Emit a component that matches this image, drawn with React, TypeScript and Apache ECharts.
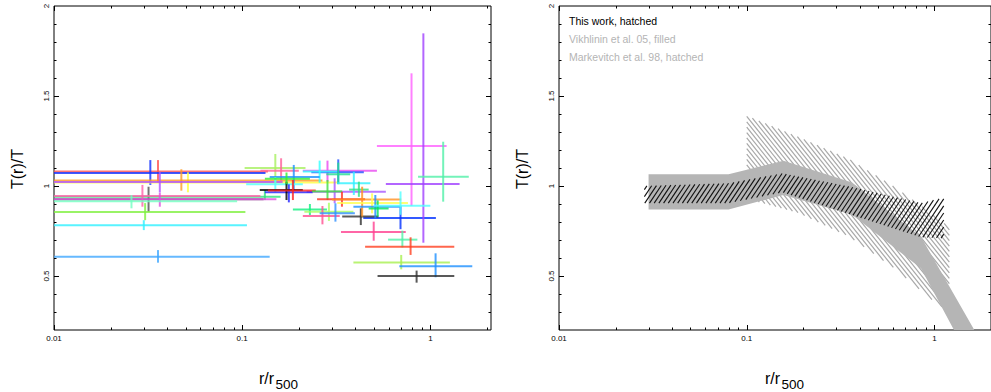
import { useEffect, useRef } from "react";
import * as echarts from "echarts";

const FONT = "'Liberation Sans', Arial, Helvetica, sans-serif";

// Individual cluster profile bins: r/r500 centre and range, T(r)/T centre and range
const binR = [
  0.0318, 0.0357, 0.0325, 0.0515, 0.0475, 0.0365, 0.132, 0.0295, 0.0365, 0.0258, 0.0305, 0.030, 0.0357,
  0.150, 0.161, 0.284, 0.324, 0.258, 0.324, 0.188, 0.15, 0.31, 0.177, 0.172, 0.186, 0.172,
  0.229, 0.289, 0.267, 0.313, 0.284, 0.694, 0.427, 0.5, 0.71, 0.785, 0.70, 1.066, 0.845,
  0.794, 0.918, 1.17, 0.392, 0.417, 0.339, 0.434, 0.49, 0.51, 0.525, 0.694,
];
const binT = [
  0.927, 1.08, 1.072, 1.02, 1.031, 1.022, 0.94, 0.944, 0.926, 0.915, 0.856, 0.782, 0.607,
  1.10, 1.085, 1.085, 1.076, 1.08, 1.065, 1.05, 1.01, 0.968, 0.965, 0.978, 0.975, 1.04,
  0.87, 0.857, 0.833, 0.848, 0.97, 0.822, 0.83, 0.744, 0.702, 0.663, 0.575, 0.554, 0.5,
  1.222, 1.011, 1.052, 1.015, 0.98, 0.927, 0.925, 0.905, 0.885, 0.875, 0.89,
];
const binRLow = [
  0.005, 0.005, 0.005, 0.005, 0.005, 0.005, 0.005, 0.005, 0.005, 0.005, 0.005, 0.005, 0.005,
  0.103, 0.125, 0.21, 0.233, 0.21, 0.28, 0.14, 0.105, 0.22, 0.132, 0.124, 0.137, 0.132,
  0.186, 0.214, 0.21, 0.258, 0.235, 0.44, 0.34, 0.335, 0.596, 0.45, 0.39, 0.684, 0.524,
  0.52, 0.58, 0.86, 0.32, 0.37, 0.25, 0.30, 0.32, 0.39, 0.47, 0.5,
];
const binRHigh = [
  0.13, 0.137, 0.133, 0.32, 0.267, 0.164, 0.16, 0.125, 0.152, 0.094, 0.104, 0.106, 0.140,
  0.217, 0.20, 0.52, 0.443, 0.32, 0.375, 0.258, 0.21, 0.58, 0.237, 0.21, 0.246, 0.229,
  0.282, 0.39, 0.33, 0.397, 0.34, 1.07, 0.53, 0.74, 0.853, 1.34, 1.27, 1.67, 1.34,
  1.22, 1.43, 1.6, 0.48, 0.47, 0.45, 0.70, 0.76, 0.69, 0.60, 1.0,
];
const binTLow = [
  0.857, 1.018, 1.006, 0.965, 0.974, 0.963, 0.922, 0.885, 0.885, 0.876, 0.81, 0.755, 0.574,
  1.015, 1.024, 1.024, 1.011, 1.018, 1.01, 0.978, 0.965, 0.904, 0.909, 0.922, 0.922, 1.01,
  0.839, 0.806, 0.787, 0.802, 0.922, 0.76, 0.783, 0.696, 0.659, 0.617, 0.537, 0.493, 0.463,
  0.889, 0.685, 0.913, 0.95, 0.94, 0.885, 0.83, 0.848, 0.82, 0.83, 0.84,
];
const binTHigh = [
  0.996, 1.144, 1.144, 1.076, 1.093, 1.079, 0.978, 1.006, 0.961, 0.95, 0.905, 0.81, 0.644,
  1.178, 1.154, 1.141, 1.148, 1.141, 1.13, 1.117, 1.05, 1.043, 1.009, 1.024, 1.033, 1.075,
  0.9, 0.907, 0.889, 0.904, 1.033, 0.89, 0.876, 0.802, 0.752, 0.715, 0.617, 0.626, 0.53,
  1.626, 1.848, 1.246, 1.079, 1.024, 0.968, 0.996, 0.959, 0.95, 0.92, 0.97,
];
const binColors = [
  "#505050", "#ff5050", "#1030ff", "#ffff40", "#ff9a20", "#b050ff", "#30e080", "#ff60a8", "#e050e0", "#70ffc0", "#80f040", "#30f0ff", "#40a8ff",
  "#a8f060", "#ff6098", "#e848f0", "#2050ff", "#30ffff", "#20e090", "#1e90ff", "#50ffff", "#a858ff", "#2020ff", "#000000", "#ff2020", "#30f030",
  "#10f080", "#a8ff60", "#ff5090", "#3090ff", "#40e040", "#0030ff", "#303030", "#ff4090", "#50f0a8", "#ff4020", "#a8f050", "#1e90ff", "#303030",
  "#ff60ff", "#a040ff", "#50f0a8", "#30f0ff", "#30e080", "#ff3020", "#ff9020", "#ffff50", "#1e90ff", "#00e060", "#50ffff",
];

// Comparison bands: this work (hatched), Vikhlinin et al. 05 (filled), Markevitch et al. 98 (hatched)
const thisWorkR = [0.0285, 0.08, 0.155, 0.36, 0.85, 1.12];
const thisWorkUpper = [1.0, 1.015, 1.07, 0.995, 0.905, 0.935];
const thisWorkLower = [0.905, 0.905, 0.965, 0.84, 0.715, 0.71];

const vikhlininUpperR = [0.03, 0.08, 0.157, 0.364, 0.847, 1.63];
const vikhlininUpper = [1.065, 1.065, 1.14, 1.02, 0.718, 0.2];
const vikhlininLowerR = [0.03, 0.08, 0.157, 0.364, 0.847, 1.27];
const vikhlininLower = [0.87, 0.87, 0.95, 0.84, 0.543, 0.2];

const markevitchUpperR = [0.1, 0.19, 0.35, 0.6, 0.86, 1.2];
const markevitchUpper = [1.39, 1.27, 1.15, 1.0, 0.885, 0.77];
const markevitchLowerR = [0.1, 0.19, 0.35, 0.6, 0.975, 1.2];
const markevitchLower = [0.93, 0.85, 0.72, 0.55, 0.367, 0.3];

const legendLines = ["This work, hatched", "Vikhlinin et al. 05, filled", "Markevitch et al. 98, hatched"];
const legendColors = ["#000000", "#b4b4b4", "#b4b4b4"];

// Axis tick positions
const xMajorTicks = [0.01, 0.1, 1];
const xMinorTicks = [0.02, 0.03, 0.04, 0.05, 0.06, 0.07, 0.08, 0.09, 0.2, 0.3, 0.4, 0.5, 0.6, 0.7, 0.8, 0.9, 2];
const yMajorTicks = [0.5, 1, 1.5];
const yMinorTicks = [0.3, 0.4, 0.6, 0.7, 0.8, 0.9, 1.1, 1.2, 1.3, 1.4, 1.6, 1.7, 1.8, 1.9];

const tickData = [
  ...xMajorTicks.map((v) => [v, 1, 0]),
  ...xMinorTicks.map((v) => [v, 1, 1]),
  ...yMajorTicks.map((v) => [1, v, 2]),
  ...yMinorTicks.map((v) => [1, v, 3]),
];

const barData = binR.map((r, i) => [r, binT[i], binRLow[i], binRHigh[i], binTLow[i], binTHigh[i]]);

function renderTicks(params: any, api: any) {
  const cs = params.coordSys;
  const kind = api.value(2);
  const style = { stroke: "#000", lineWidth: 1 };
  const top = cs.y;
  const bottom = cs.y + cs.height;
  const left = cs.x;
  const right = cs.x + cs.width;
  if (kind <= 1) {
    const px = Math.round(api.coord([api.value(0), 1])[0]) + 0.5;
    const len = kind === 0 ? 5 : 2.5;
    return {
      type: "group",
      children: [
        { type: "line", shape: { x1: px, y1: bottom, x2: px, y2: bottom - len }, style },
        { type: "line", shape: { x1: px, y1: top, x2: px, y2: top + len }, style },
      ],
    };
  }
  const py = Math.round(api.coord([1, api.value(1)])[1]) + 0.5;
  const len = kind === 2 ? 5 : 2.5;
  return {
    type: "group",
    children: [
      { type: "line", shape: { x1: left, y1: py, x2: left + len, y2: py }, style },
      { type: "line", shape: { x1: right, y1: py, x2: right - len, y2: py }, style },
    ],
  };
}

function renderBar(params: any, api: any) {
  const cs = params.coordSys;
  const clampX = (x: number) => Math.max(cs.x, Math.min(cs.x + cs.width, x));
  const clampY = (y: number) => Math.max(cs.y, Math.min(cs.y + cs.height, y));
  const c = api.coord([api.value(0), api.value(1)]);
  const l = api.coord([api.value(2), api.value(1)]);
  const r = api.coord([api.value(3), api.value(1)]);
  const lo = api.coord([api.value(0), api.value(4)]);
  const hi = api.coord([api.value(0), api.value(5)]);
  const style = { stroke: binColors[params.dataIndex], lineWidth: 2, opacity: 0.8 };
  return {
    type: "group",
    children: [
      { type: "line", shape: { x1: clampX(l[0]), y1: c[1], x2: clampX(r[0]), y2: c[1] }, style },
      { type: "line", shape: { x1: c[0], y1: clampY(hi[1]), x2: c[0], y2: clampY(lo[1]) }, style },
    ],
  };
}

function bandPolygon(api: any, upR: number[], up: number[], loR: number[], lo: number[]) {
  const top = upR.map((r, i) => api.coord([r, up[i]]));
  const bottom = loR.map((r, i) => api.coord([r, lo[i]])).reverse();
  return top.concat(bottom);
}

// Hatch lines y = slope * x + c, clipped to the polygon (even-odd scanline pairing)
function hatchSegments(poly: number[][], step: number, slope: number) {
  const cs = poly.map((p) => p[1] - slope * p[0]);
  const dc = step * Math.abs(slope);
  const cMin = Math.ceil(Math.min(...cs) / dc) * dc;
  const cMax = Math.max(...cs);
  const segs: number[][] = [];
  for (let c = cMin; c <= cMax; c += dc) {
    const xs: number[] = [];
    for (let i = 0; i < poly.length; i++) {
      const a = poly[i];
      const b = poly[(i + 1) % poly.length];
      const fa = a[1] - slope * a[0] - c;
      const fb = b[1] - slope * b[0] - c;
      if (fa > 0 !== fb > 0) {
        const t = fa / (fa - fb);
        xs.push(a[0] + t * (b[0] - a[0]));
      }
    }
    xs.sort((p, q) => p - q);
    for (let k = 0; k + 1 < xs.length; k += 2) {
      segs.push([xs[k], slope * xs[k] + c, xs[k + 1], slope * xs[k + 1] + c]);
    }
  }
  return segs;
}

function hatchGroup(poly: number[][], step: number, slope: number, color: string, width: number) {
  return {
    type: "group",
    children: hatchSegments(poly, step, slope).map((s) => ({
      type: "line",
      shape: { x1: s[0], y1: s[1], x2: s[2], y2: s[3] },
      style: { stroke: color, lineWidth: width },
    })),
  };
}

const logFormatter = (v: number) => {
  const e = Math.log10(v);
  const re = Math.round(e);
  if (Math.abs(e - re) > 1e-6) return "";
  return re < 0 ? Math.pow(10, re).toFixed(-re) : String(Math.round(Math.pow(10, re)));
};

const halfFormatter = (v: number) => {
  const r = Math.round(v * 10) / 10;
  return Math.abs(r * 2 - Math.round(r * 2)) < 1e-6 ? String(r) : "";
};

const makeX = (gridIndex: number, max: number) => ({
  type: "log",
  logBase: 10,
  gridIndex,
  min: 0.01,
  max,
  axisLine: { show: false },
  axisTick: { show: false },
  splitLine: { show: false },
  axisLabel: {
    fontSize: 8,
    fontFamily: FONT,
    color: "#000",
    margin: 4,
    showMaxLabel: false,
    formatter: logFormatter,
  },
});

const makeY = (gridIndex: number) => ({
  type: "value",
  gridIndex,
  min: 0.2,
  max: 2,
  interval: 0.1,
  axisLine: { show: false },
  axisTick: { show: false },
  splitLine: { show: false },
  axisLabel: {
    rotate: 90,
    fontSize: 8,
    fontFamily: FONT,
    color: "#000",
    margin: 4,
    formatter: halfFormatter,
  },
});

const gridBox = { show: true, borderColor: "#000", borderWidth: 1, backgroundColor: "transparent", top: 6, height: 324 };

const textEl = (text: string, x: number, y: number, size: number, fill: string, align: string, rotation = 0) => ({
  type: "text",
  x,
  y,
  rotation,
  silent: true,
  style: {
    text,
    fill,
    font: `${size}px ${FONT}`,
    align,
    textAlign: align,
    verticalAlign: "middle",
    textVerticalAlign: "middle",
  },
});

const option = {
  animation: false,
  backgroundColor: "#ffffff",
  grid: [
    { ...gridBox, left: 54, width: 437 },
    { ...gridBox, left: 559, width: 432 },
  ],
  xAxis: [makeX(0, 2.1), makeX(1, 2)],
  yAxis: [makeY(0), makeY(1)],
  series: [
    {
      type: "custom",
      name: "cluster bins",
      xAxisIndex: 0,
      yAxisIndex: 0,
      silent: true,
      data: barData,
      renderItem: renderBar,
    },
    {
      type: "custom",
      name: "Markevitch et al. 98",
      xAxisIndex: 1,
      yAxisIndex: 1,
      silent: true,
      data: [[1, 1]],
      renderItem: (_p: any, api: any) =>
        hatchGroup(bandPolygon(api, markevitchUpperR, markevitchUpper, markevitchLowerR, markevitchLower), 4.3, 1.25, "#a8a8a8", 1.2),
    },
    {
      type: "custom",
      name: "Vikhlinin et al. 05",
      xAxisIndex: 1,
      yAxisIndex: 1,
      silent: true,
      data: [[1, 1]],
      renderItem: (_p: any, api: any) => ({
        type: "polygon",
        shape: { points: bandPolygon(api, vikhlininUpperR, vikhlininUpper, vikhlininLowerR, vikhlininLower) },
        style: { fill: "#b5b5b5" },
      }),
    },
    {
      type: "custom",
      name: "This work",
      xAxisIndex: 1,
      yAxisIndex: 1,
      silent: true,
      data: [[1, 1]],
      renderItem: (_p: any, api: any) =>
        hatchGroup(bandPolygon(api, thisWorkR, thisWorkUpper, thisWorkR, thisWorkLower), 4.7, -1.5, "#111111", 1.1),
    },
    {
      type: "custom",
      xAxisIndex: 0,
      yAxisIndex: 0,
      silent: true,
      data: tickData,
      renderItem: renderTicks,
    },
    {
      type: "custom",
      xAxisIndex: 1,
      yAxisIndex: 1,
      silent: true,
      data: tickData,
      renderItem: renderTicks,
    },
  ],
  graphic: [
    textEl("T(r)/T", 17, 169, 16, "#000", "center", Math.PI / 2),
    textEl("T(r)/T", 522, 169, 16, "#000", "center", Math.PI / 2),
    textEl("r/r", 274, 378, 16, "#000", "right"),
    textEl("500", 275.5, 384, 13.5, "#000", "left"),
    textEl("r/r", 780, 378, 16, "#000", "right"),
    textEl("500", 781.5, 384, 13.5, "#000", "left"),
    ...legendLines.map((t, i) => textEl(t, 569, 21 + i * 18, 10.5, legendColors[i], "left")),
  ],
};

export default function App() {
  const ref = useRef<HTMLDivElement>(null);
  useEffect(() => {
    const chart = echarts.init(ref.current!, null, { renderer: "svg" });
    chart.setOption(option as any);
    return () => chart.dispose();
  }, []);
  return (
    <div
      ref={ref}
      style={{ position: "absolute", left: 0, top: 0, width: 991, height: 392, background: "#fff" }}
    />
  );
}
